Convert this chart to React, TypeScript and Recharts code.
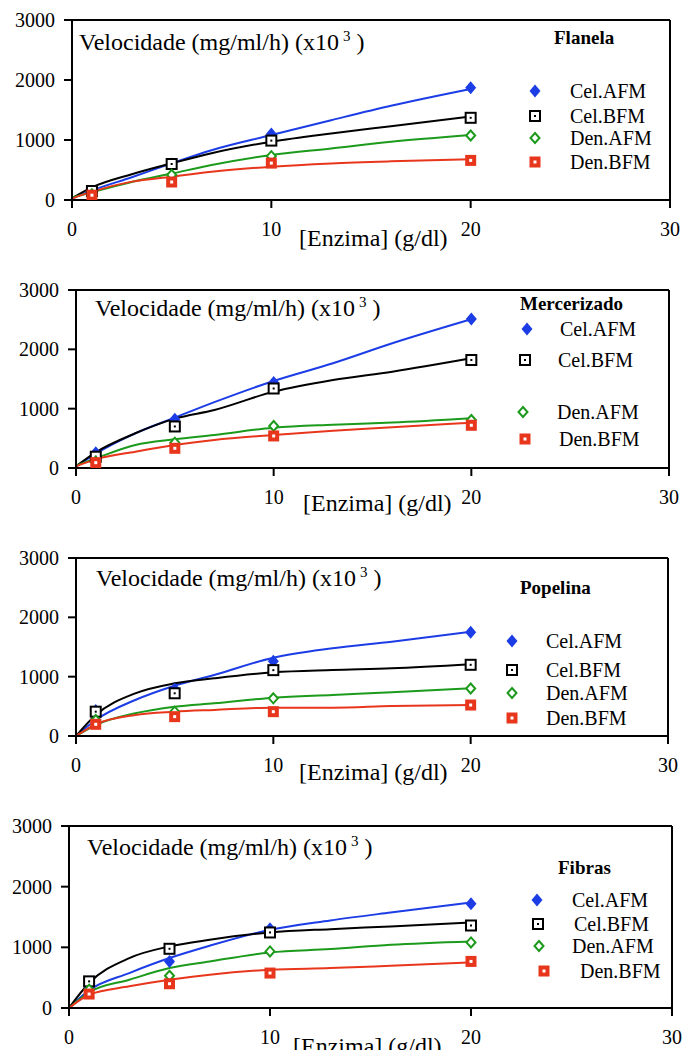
import { ComposedChart, Line, Scatter, XAxis, YAxis, ReferenceLine } from "recharts"

// series shared by all four panels
const seriesNames = ["Cel.AFM", "Cel.BFM", "Den.AFM", "Den.BFM"]
const seriesColors = ["#1c3de6", "#000000", "#1c9a1c", "#e8361c"]
const doseX = [1, 5, 10, 20]
const curveX = [0, 1, 3, 5, 7, 10, 13, 16, 20]
const xTicks = [0, 10, 20, 30]
const yTicks = [0, 1000, 2000, 3000]

// Flanela
const flanelaCurves = [
  [25, 160, 380, 611, 830, 1083, 1330, 1570, 1850],
  [30, 210, 430, 611, 780, 972, 1110, 1230, 1390],
  [40, 130, 300, 440, 583, 750, 860, 970, 1083],
  [25, 139, 306, 389, 472, 556, 610, 645, 678],
]
const flanelaPoints = [
  [120, 600, 1100, 1870],
  [150, 600, 990, 1370],
  [94, 420, 730, 1075],
  [80, 300, 615, 660],
]

// Mercerizado
const mercerizadoCurves = [
  [22, 242, 585, 849, 1110, 1467, 1765, 2102, 2507],
  [30, 264, 585, 832, 978, 1287, 1484, 1624, 1849],
  [40, 163, 388, 483, 556, 680, 730, 765, 838],
  [30, 146, 275, 388, 472, 556, 629, 686, 764],
]
const mercerizadoPoints = [
  [259, 821, 1440, 2510],
  [190, 700, 1340, 1820],
  [107, 427, 708, 809],
  [90, 332, 540, 720],
]

// Popelina
const popelinaCurves = [
  [0, 270, 607, 848, 1028, 1320, 1478, 1590, 1758],
  [0, 354, 719, 888, 972, 1073, 1112, 1140, 1208],
  [0, 185, 382, 494, 551, 646, 691, 736, 803],
  [0, 197, 354, 410, 440, 478, 478, 505, 522],
]
const popelinaPoints = [
  [430, 790, 1260, 1750],
  [410, 720, 1110, 1200],
  [270, 410, 635, 800],
  [197, 326, 410, 522],
]

// Fibras
const fibrasCurves = [
  [0, 291, 576, 823, 1026, 1289, 1443, 1574, 1739],
  [0, 411, 823, 1015, 1125, 1245, 1300, 1344, 1410],
  [0, 258, 466, 658, 768, 916, 971, 1042, 1097],
  [0, 219, 357, 466, 549, 631, 658, 697, 752],
]
const fibrasPoints = [
  [330, 768, 1306, 1717],
  [439, 976, 1245, 1360],
  [302, 532, 933, 1081],
  [230, 400, 576, 768],
]

const panels = [
  { name: "Flanela", curves: flanelaCurves, points: flanelaPoints },
  { name: "Mercerizado", curves: mercerizadoCurves, points: mercerizadoPoints },
  { name: "Popelina", curves: popelinaCurves, points: popelinaPoints },
  { name: "Fibras", curves: fibrasCurves, points: fibrasPoints },
]

// page layout (pixels), one entry per panel
const layouts = [
  {
    top: 0, height: 260, plot: { left: 72, right: 670, top: 20, bottom: 200 },
    title: [79, 42], nameAt: [554, 37], xLabel: [299, 238],
    markerX: [535, 535, 535, 535], labelX: [570, 570, 570, 570], legendY: [91, 116, 138, 162],
  },
  {
    top: 265, height: 260, plot: { left: 76, right: 669, top: 290, bottom: 468 },
    title: [95, 308], nameAt: [520, 303], xLabel: [303, 503],
    markerX: [527, 525, 523, 525], labelX: [560, 558, 557, 559], legendY: [329, 360, 412, 439],
  },
  {
    top: 530, height: 260, plot: { left: 76, right: 668, top: 558, bottom: 736 },
    title: [96, 578], nameAt: [520, 587], xLabel: [299, 772],
    markerX: [512, 512, 512, 512], labelX: [546, 546, 546, 546], legendY: [641, 670, 693, 718],
  },
  {
    top: 800, height: 250, plot: { left: 69, right: 672, top: 826, bottom: 1008 },
    title: [87, 847], nameAt: [558, 867], xLabel: [293, 1046],
    markerX: [537, 538, 539, 544], labelX: [572, 574, 572, 580], legendY: [900, 924, 946, 971],
  },
]

const serif = "'Liberation Serif', 'Times New Roman', serif"

function Marker({ kind, cx, cy }: { kind: number; cx: number; cy: number }) {
  if (cx == null || cy == null) return null
  if (kind === 0) {
    return (
      <polygon
        points={`${cx},${cy - 6.5} ${cx + 5.5},${cy} ${cx},${cy + 6.5} ${cx - 5.5},${cy}`}
        fill={seriesColors[0]}
      />
    )
  }
  if (kind === 1) {
    return (
      <g>
        <rect x={cx - 5} y={cy - 5} width={10} height={10} fill="#fff" stroke="#000" strokeWidth={2} />
        <rect x={cx - 1} y={cy - 1} width={2} height={2} fill="#000" />
      </g>
    )
  }
  if (kind === 2) {
    return (
      <polygon
        points={`${cx},${cy - 5} ${cx + 4.5},${cy} ${cx},${cy + 5} ${cx - 4.5},${cy}`}
        fill="#fff"
        stroke={seriesColors[2]}
        strokeWidth={2}
      />
    )
  }
  return (
    <g>
      <rect x={cx - 5.5} y={cy - 5.5} width={11} height={11} fill={seriesColors[3]} />
      <rect x={cx - 1.5} y={cy - 1.5} width={3} height={3} fill="#fff" />
    </g>
  )
}

function Text({ x, y, size, bold, children }: any) {
  return (
    <div
      style={{
        position: "absolute",
        left: x,
        top: y,
        transform: "translateY(-50%)",
        fontFamily: serif,
        fontSize: size,
        fontWeight: bold ? "bold" : "normal",
        lineHeight: 1,
        whiteSpace: "nowrap",
        color: "#000",
      }}
    >
      {children}
    </div>
  )
}

function Panel({ index }: { index: number }) {
  const panel = panels[index]
  const lay = layouts[index]
  const xAxisHeight = 40
  const margin = {
    top: lay.plot.top - lay.top,
    right: 682 - lay.plot.right,
    left: 0,
    bottom: lay.top + lay.height - lay.plot.bottom - xAxisHeight,
  }
  const axisTick = { fontSize: 20, fill: "#000", fontFamily: serif }

  return (
    <>
      <div style={{ position: "absolute", left: 0, top: lay.top }}>
        <ComposedChart width={682} height={lay.height} margin={margin}>
          <XAxis
            type="number"
            dataKey="x"
            domain={[0, 30]}
            ticks={xTicks}
            interval={0}
            height={xAxisHeight}
            tickSize={8}
            tickMargin={14}
            axisLine={{ stroke: "#000", strokeWidth: 2 }}
            tickLine={{ stroke: "#000", strokeWidth: 2 }}
            tick={axisTick}
            allowDataOverflow
          />
          <YAxis
            type="number"
            dataKey="y"
            domain={[0, 3000]}
            ticks={yTicks}
            interval={0}
            width={lay.plot.left}
            tickSize={8}
            tickMargin={9}
            axisLine={{ stroke: "#000", strokeWidth: 2 }}
            tickLine={{ stroke: "#000", strokeWidth: 2 }}
            tick={axisTick}
            allowDataOverflow
          />
          <ReferenceLine y={3000} stroke="#000" strokeWidth={2} />
          <ReferenceLine x={30} stroke="#000" strokeWidth={2} />
          {panel.curves.map((vals, s) => (
            <Line
              key={"line" + s}
              data={curveX.map((x, i) => ({ x, y: vals[i] }))}
              dataKey="y"
              type="monotone"
              stroke={seriesColors[s]}
              strokeWidth={2}
              dot={false}
              activeDot={false}
              isAnimationActive={false}
            />
          ))}
          {panel.points.map((vals, s) => (
            <Scatter
              key={"pts" + s}
              data={doseX.map((x, i) => ({ x, y: vals[i] }))}
              dataKey="y"
              shape={(p: any) => <Marker kind={s} cx={p.cx} cy={p.cy} />}
              isAnimationActive={false}
            />
          ))}
        </ComposedChart>
      </div>

      <Text x={lay.title[0]} y={lay.title[1]} size={24}>
        Velocidade (mg/ml/h) (x10
        <span style={{ fontSize: 15, position: "relative", top: -9, marginLeft: 4 }}>3</span> )
      </Text>
      <Text x={lay.nameAt[0]} y={lay.nameAt[1]} size={19} bold>
        {panel.name}
      </Text>
      <Text x={lay.xLabel[0]} y={lay.xLabel[1]} size={24}>
        [Enzima] (g/dl)
      </Text>
      {seriesNames.map((name, s) => (
        <div key={name}>
          <svg
            width={16}
            height={16}
            style={{ position: "absolute", left: lay.markerX[s] - 8, top: lay.legendY[s] - 8 }}
          >
            <Marker kind={s} cx={8} cy={8} />
          </svg>
          <Text x={lay.labelX[s]} y={lay.legendY[s]} size={20}>
            {name}
          </Text>
        </div>
      ))}
    </>
  )
}

export default function App() {
  return (
    <div
      style={{
        position: "absolute",
        left: 0,
        top: 0,
        width: 682,
        height: 1050,
        overflow: "hidden",
        background: "#fff",
      }}
    >
      {panels.map((p, i) => (
        <Panel key={p.name} index={i} />
      ))}
    </div>
  )
}
